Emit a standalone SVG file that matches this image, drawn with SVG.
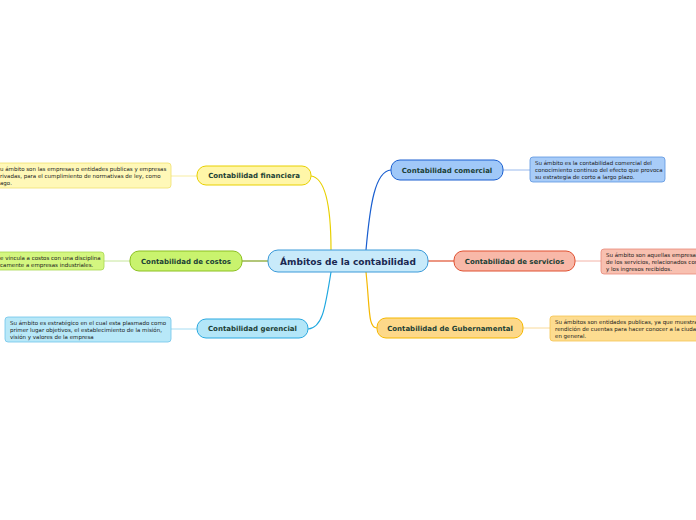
<svg xmlns="http://www.w3.org/2000/svg" width="696" height="520" viewBox="0 0 696 520">
<style>
.lbl{font-family:"DejaVu Sans",Verdana,sans-serif;font-weight:bold;font-size:7px;fill:#1b3f35;text-anchor:middle}
.main{font-family:"DejaVu Sans",Verdana,sans-serif;font-weight:bold;font-size:9px;fill:#1a2850;text-anchor:middle}
.note{font-family:"DejaVu Sans",Verdana,sans-serif;font-size:5.5px;fill:#1a1a1a}
.c{fill:none;stroke-width:1.2}
.l{fill:none;stroke-width:0.8}
</style>
<rect width="696" height="520" fill="#ffffff"/>
<g id="connectors">
<path class="c" stroke="#e8d000" d="M331,250 C331,210 326,178 311,176"/>
<path class="c" stroke="#1a5fd0" d="M366,250 C370,205 375,171 391,170"/>
<path class="c" stroke="#7fa020" d="M268,261 C255,261 250,261 242,261"/>
<path class="c" stroke="#e05030" d="M428,261 L454,261"/>
<path class="c" stroke="#20a8e0" d="M331,272 C325,310 322,328 308,329"/>
<path class="c" stroke="#f5b800" d="M366,272 C370,310 368,328 377,328"/>
<path class="l" stroke="#f5e98a" d="M171,176 L197,176"/>
<path class="l" stroke="#b8e080" d="M104,261 L130,261"/>
<path class="l" stroke="#90d4f0" d="M171,329 L197,329"/>
<path class="l" stroke="#80a8e8" d="M503,170 L530,170"/>
<path class="l" stroke="#f0a090" d="M575,261 L601,261"/>
<path class="l" stroke="#f8d080" d="M523,328 L550,328"/>
</g>
<g id="central">
<rect x="268" y="250" width="160" height="22" rx="10" fill="#c8eafa" stroke="#3a9ad9" stroke-width="1"/>
<text class="main" x="348" y="264.5">Ámbitos de la contabilidad</text>
</g>
<g id="financiera">
<rect x="197" y="166" width="114" height="19" rx="9" fill="#fff6a8" stroke="#e8d000" stroke-width="1"/>
<text class="lbl" x="254" y="178">Contabilidad financiera</text>
</g>
<g id="financiera-note">
<rect x="-6" y="163" width="177" height="25" rx="3" fill="#fff8b8" stroke="#f0e070" stroke-width="0.8"/>
<text class="note" x="0" y="171">u ámbito son las empresas o entidades publicas y empresas</text>
<text class="note" x="0" y="178">rivadas, para el cumplimiento de normativas de ley, como</text>
<text class="note" x="0" y="185">ago.</text>
</g>
<g id="costos">
<rect x="130" y="251" width="112" height="20" rx="9" fill="#c9f36e" stroke="#8cc020" stroke-width="1"/>
<text class="lbl" x="186" y="263.5">Contabilidad de costos</text>
</g>
<g id="costos-note">
<rect x="-6" y="252" width="110" height="18" rx="3" fill="#d4f680" stroke="#a8d850" stroke-width="0.8"/>
<text class="note" x="0" y="259.5">e vincula a costos con una disciplina</text>
<text class="note" x="0" y="266.5">camente a empresas industriales.</text>
</g>
<g id="gerencial">
<rect x="197" y="319" width="111" height="19" rx="9" fill="#b3e6f8" stroke="#2aa9e0" stroke-width="1"/>
<text class="lbl" x="252.5" y="331">Contabilidad gerencial</text>
</g>
<g id="gerencial-note">
<rect x="5" y="317" width="166" height="25" rx="3" fill="#b8e8f8" stroke="#70c4ea" stroke-width="0.8"/>
<text class="note" x="10" y="325">Su ámbito es estratégico en el cual esta plasmado como</text>
<text class="note" x="10" y="332">primer lugar objetivos, el establecimiento de la misión,</text>
<text class="note" x="10" y="339">visión y valores de la empresa</text>
</g>
<g id="comercial">
<rect x="391" y="160" width="112" height="20" rx="9" fill="#a0c8f8" stroke="#1a5fd0" stroke-width="1"/>
<text class="lbl" x="447" y="172.5">Contabilidad comercial</text>
</g>
<g id="comercial-note">
<rect x="530" y="157" width="135" height="25" rx="3" fill="#a8ccf8" stroke="#5a94e0" stroke-width="0.8"/>
<text class="note" x="535" y="165">Su ámbito es la contabilidad comercial del</text>
<text class="note" x="535" y="172">conocimiento continuo del efecto que provoca</text>
<text class="note" x="535" y="179">su estrategia de corto a largo plazo.</text>
</g>
<g id="servicios">
<rect x="454" y="251" width="121" height="20" rx="9" fill="#f8b8a8" stroke="#e05030" stroke-width="1"/>
<text class="lbl" x="514.5" y="263.5">Contabilidad de servicios</text>
</g>
<g id="servicios-note">
<rect x="601" y="249" width="110" height="25" rx="3" fill="#f8c0b0" stroke="#e88878" stroke-width="0.8"/>
<text class="note" x="606" y="257">Su ámbito son aquellas empresa</text>
<text class="note" x="606" y="264">de los servicios, relacionados con</text>
<text class="note" x="606" y="271">y los ingresos recibidos.</text>
</g>
<g id="gubernamental">
<rect x="377" y="318" width="146" height="20" rx="9" fill="#fdd889" stroke="#f5b800" stroke-width="1"/>
<text class="lbl" x="450" y="330.5">Contabilidad de Gubernamental</text>
</g>
<g id="gubernamental-note">
<rect x="550" y="316" width="160" height="25" rx="3" fill="#fddc90" stroke="#f5c450" stroke-width="0.8"/>
<text class="note" x="555" y="324">Su ámbitos son entidades publicas, ya que muestra</text>
<text class="note" x="555" y="331">rendición de cuentas para hacer conocer a la ciudad</text>
<text class="note" x="555" y="338">en general.</text>
</g>
</svg>
